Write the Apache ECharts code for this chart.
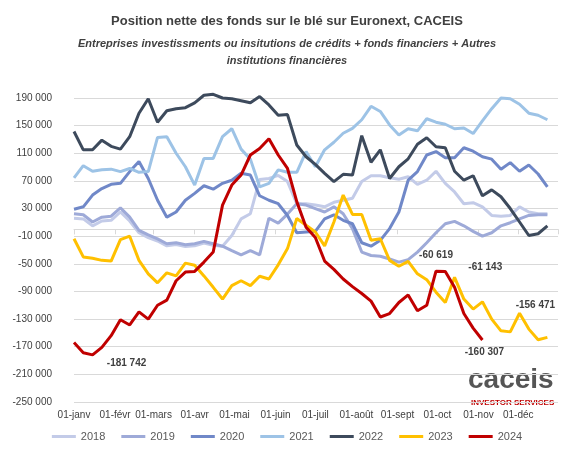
<!DOCTYPE html>
<html><head><meta charset="utf-8">
<script src="https://cdn.jsdelivr.net/npm/echarts@6/dist/echarts.min.js"></script>
<style>html,body{margin:0;padding:0;background:#fff}#c{width:574px;height:459px}</style>
</head><body><div id="c"></div>
<script>
const years = ['2018','2019','2020','2021','2022','2023','2024'];
const colors = ['#c3cbe8','#9eaad8','#7088c8','#9dc3e6','#3d4a5c','#ffc000','#c00000'];
const monthLabels = ['janv','févr','mars','avr','mai','juin','juil','août','sept','oct','nov','déc'];
const yTicks = {min:-250000, max:190000, step:40000};

const s2018 = [16000,15000,5000,12000,13000,25000,12000,-5000,-12000,-17000,-24000,-22000,-25000,-24000,-20000,-23000,-24500,-9000,15000,22500,72000,73500,78000,69000,37000,37000,35000,32500,39000,42000,45000,69000,77500,77500,74500,72500,76000,65000,71000,84000,66500,54000,37000,38500,32500,20000,19000,20000,32500,25000,22500,22500];
const s2019 = [22500,21000,10500,17500,19000,31000,17500,-1500,-8000,-14000,-21000,-19500,-22500,-21000,-17500,-21000,-24500,-31000,-37000,-31000,-37000,16000,9000,22000,37000,35000,30000,25000,32500,22500,1000,-33000,-38000,-39000,-43000,-47500,-44000,-33000,-19500,-5000,8000,11500,5000,-3000,-10000,-5000,5000,9500,15000,20000,21000,21000];
const s2020 = [29000,32500,49500,59000,65000,66500,83500,98000,73500,42000,17500,25000,42000,52000,63000,58000,66500,71000,81000,78500,48500,42000,37000,20000,-5000,-4000,-3000,15000,21000,13000,8000,-19500,-24500,-16000,1000,25000,71000,83500,107500,112500,103500,103500,118000,113000,105000,101500,87000,96500,84000,93000,80000,61500];
const s2021 = [74500,92000,84000,86000,87000,83500,88000,82500,83500,133000,134000,110000,90500,64000,102500,102500,134000,145500,116000,101500,61500,66500,86000,82500,82500,112500,90500,115000,126000,139000,146000,158500,178000,170500,151000,136500,145500,142500,160000,155000,152000,145500,146500,138500,157000,174500,190000,189000,181000,168000,165000,158500];
const s2022 = [141500,115000,115000,129000,120000,116000,134000,168000,189000,155000,171500,174500,176000,183000,194000,195356,190000,189000,186000,183000,192000,180000,165000,166000,122000,105000,94000,81000,69000,79500,78500,135500,97000,115000,73500,90500,102000,123000,132500,119500,118000,84000,71000,77500,48500,57000,47000,30000,10500,-9000,-6500,5000];
const s2023 = [-13700,-40000,-42000,-45000,-46000,-15000,-10000,-45000,-64500,-77500,-63000,-67500,-49000,-52000,-67500,-84000,-101000,-81500,-74500,-81500,-68000,-72000,-51500,-28000,15500,5700,-4000,-24000,10500,49500,21500,21500,-16000,-13700,-45000,-53500,-46500,-64500,-73000,-91000,-106000,-69500,-101000,-115500,-105000,-130000,-147000,-148500,-121500,-144500,-160000,-156471];
const s2024 = [-164000,-178600,-181742,-171000,-154000,-131000,-138500,-119500,-130000,-110000,-102500,-74500,-62000,-61000,-47500,-33000,35000,64000,78500,107500,117000,131000,107500,88000,40000,3000,-12000,-46000,-58000,-72000,-83000,-93000,-104000,-127000,-122000,-106000,-95000,-118000,-110000,-60619,-61143,-84000,-122000,-143000,-160307];
const allSeries = [s2018,s2019,s2020,s2021,s2022,s2023,s2024];

const t0 = Date.UTC(2024,0,1), DAY = 86400000;
const wk = i => t0 + i*7*DAY;
const fmt = v => { const s = Math.abs(Math.round(v)).toString().replace(/\B(?=(\d{3})+(?!\d))/g,' '); return (v<0?'-':'')+s; };

const ann = {
  4: [[15,'195 356',[0,-12]]],
  5: [[51,'-156 471',[-12,-32]]],
  6: [[2,'-181 742',[34,8]],[39,'-60 619',[0,-16]],[40,'-61 143',[40,-4]],[44,'-160 307',[2,12]]]
};

const series = allSeries.map((d,k)=>({
  name: years[k], type:'line', data: d.map((v,i)=>[wk(i),v]), clip:false,
  showSymbol:false, symbol:'none', lineStyle:{width:3,color:colors[k]}, itemStyle:{color:colors[k]},
  z: k+2, animation:false,
  markPoint: ann[k] ? {symbol:'circle', symbolSize:0, silent:true,
    label:{show:true, color:'#404040', fontSize:10, fontWeight:'bold', fontFamily:'Liberation Sans'},
    data: ann[k].map(a=>({coord:[wk(a[0]), d[a[0]]], label:{formatter:a[1], offset:a[2]}}))} : undefined
}));

const xBase = {type:'time', min:t0, max:Date.UTC(2024,11,31), splitNumber:12,
  splitLine:{show:false}};
const chart = echarts.init(document.getElementById('c'));
chart.setOption({
  animation:false,
  title:[{text:'Position nette des fonds sur le blé sur Euronext, CACEIS', left:'center', top:10,
    textStyle:{fontSize:13, fontWeight:'bold', color:'#404040', fontFamily:'Liberation Sans'}},
    {text:'Entreprises investissments ou insitutions de crédits + fonds financiers + Autres\ninstitutions financières', left:'center', top:30,
    textStyle:{fontSize:11, fontStyle:'italic', color:'#404040', fontFamily:'Liberation Sans', lineHeight:17}}],
  grid:{left:74, right:16, top:98, bottom:57},
  legend:{bottom:12, left:'center', itemWidth:24, itemHeight:3, itemGap:16, icon:'rect',
    textStyle:{fontSize:11, color:'#595959', fontFamily:'Liberation Sans'}, data:years},
  xAxis:[
    Object.assign({}, xBase, {axisLine:{onZero:true, lineStyle:{color:'#d9d9d9'}}, axisTick:{show:true, length:5, lineStyle:{color:'#d9d9d9'}}, axisLabel:{show:false}}),
    Object.assign({}, xBase, {position:'bottom', axisLine:{show:false}, axisTick:{show:false}, gridIndex:0,
      axisLabel:{color:'#404040', fontSize:10, fontFamily:'Liberation Sans', margin:8,
        formatter: v => { const d=new Date(v); return '01-'+monthLabels[d.getUTCMonth()]; }}})
  ],
  yAxis:{type:'value', min:yTicks.min, max:yTicks.max, interval:yTicks.step,
    axisLine:{show:false}, axisTick:{show:false},
    splitLine:{lineStyle:{color:'#d9d9d9'}},
    axisLabel:{color:'#404040', fontSize:10, fontFamily:'Liberation Sans', formatter:fmt, margin:22}},
  graphic:[
    {type:'text', left:468, top:366, style:{text:'caceis', font:'bold 28px Liberation Sans', fill:'#555'}},
    {type:'text', left:471, top:399, style:{text:'INVESTOR SERVICES', font:'bold 8px Liberation Sans', fill:'#c00000'}}
  ],
  series: series
});
</script></body></html>
